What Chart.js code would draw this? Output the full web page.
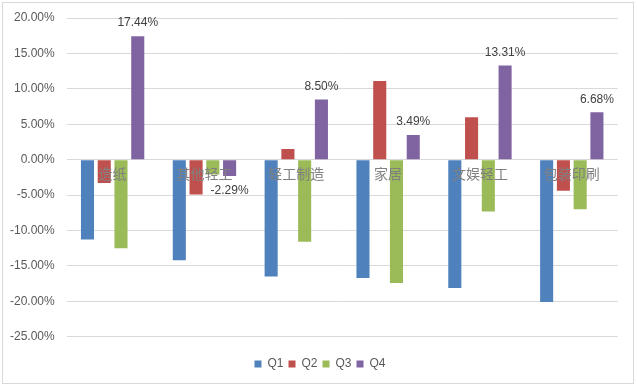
<!DOCTYPE html>
<html lang="zh">
<head>
    <meta charset="UTF-8">
    <title>轻工子行业季度涨跌幅</title>
    <script src="https://cdn.jsdelivr.net/npm/chart.js"></script>
    <style>
        body { margin: 0; background: #fff; }
        #wrap { position: absolute; left: 2px; top: 2px; width: 630px; height: 380px; border: 1px solid #d9d9d9; }
    </style>
</head>
<body>
    <div id="wrap"><canvas id="chart"></canvas></div>

    <script>
        const categories = ['造纸', '其他轻工', '轻工制造', '家居', '文娱轻工', '包装印刷'];
        const seriesNames = ['Q1', 'Q2', 'Q3', 'Q4'];
        const q1 = [-11.25, -14.2, -16.5, -16.7, -18.1, -20.1];
        const q2 = [-3.3, -4.9, 1.5, 11.1, 6.0, -4.4];
        const q3 = [-12.5, -2.1, -11.6, -17.4, -7.3, -7.0];
        const q4 = [17.44, -2.29, 8.50, 3.49, 13.31, 6.68];
        const colors = ['#4f81bd', '#c0504d', '#9bbb59', '#8064a2'];

        // value labels only on the Q4 bars
        const q4Labels = {
            id: 'q4Labels',
            afterDatasetsDraw(chart) {
                const ctx = chart.ctx;
                const meta = chart.getDatasetMeta(3);
                ctx.save();
                ctx.font = '12px "Liberation Sans", Arial, sans-serif';
                ctx.fillStyle = '#404040';
                ctx.textAlign = 'center';
                ctx.textBaseline = 'middle';
                meta.data.forEach((bar, i) => {
                    const v = q4[i];
                    const y = v >= 0 ? bar.y - 13 : bar.y + 15;
                    ctx.fillText(v.toFixed(2) + '%', bar.x, y);
                });
                ctx.restore();
            }
        };

        const data = [q1, q2, q3, q4];

        new Chart(document.getElementById('chart'), {
            type: 'bar',
            data: {
                labels: categories,
                datasets: seriesNames.map((name, i) => ({
                    label: name,
                    data: data[i],
                    backgroundColor: colors[i],
                    categoryPercentage: 0.73,
                    barPercentage: 0.78
                }))
            },
            options: {
                responsive: true,
                maintainAspectRatio: false,
                animation: false,
                layout: { padding: { left: 4, right: 0, top: 15, bottom: 3 } },
                plugins: {
                    tooltip: { enabled: false },
                    legend: {
                        position: 'bottom',
                        title: { display: true, text: '', font: { size: 10 }, padding: { top: 4.2, bottom: 0 } },
                        labels: {
                            boxWidth: 7,
                            boxHeight: 7,
                            padding: 5,
                            color: '#595959',
                            font: { size: 12, family: '"Liberation Sans", Arial, sans-serif' }
                        }
                    }
                },
                scales: {
                    x: {
                        position: { y: 0 },
                        grid: { display: false, drawTicks: false },
                        border: { display: false },
                        ticks: {
                            z: 1, // category names sit on top of the bars
                            color: '#808080',
                            padding: 6,
                            font: { size: 14, family: '"Noto Sans CJK SC", sans-serif' }
                        }
                    },
                    y: {
                        min: -25,
                        max: 20,
                        afterFit(scale) {
                            scale.width = 59.7;
                            scale.paddingTop = 0;
                            scale.paddingBottom = 0;
                        },
                        grid: { color: '#d9d9d9', drawTicks: false },
                        border: { display: false },
                        ticks: {
                            stepSize: 5,
                            padding: 12,
                            color: '#595959',
                            font: { size: 12, family: '"Liberation Sans", Arial, sans-serif' },
                            callback: v => v.toFixed(2) + '%'
                        }
                    },
                    // empty right-hand spacer so the plot stops where the reference does
                    y2: {
                        position: 'right',
                        afterFit(scale) { scale.width = 15.3; },
                        grid: { display: false, drawTicks: false },
                        border: { display: false },
                        ticks: { display: false }
                    }
                }
            },
            plugins: [q4Labels]
        });
    </script>
</body>
</html>
